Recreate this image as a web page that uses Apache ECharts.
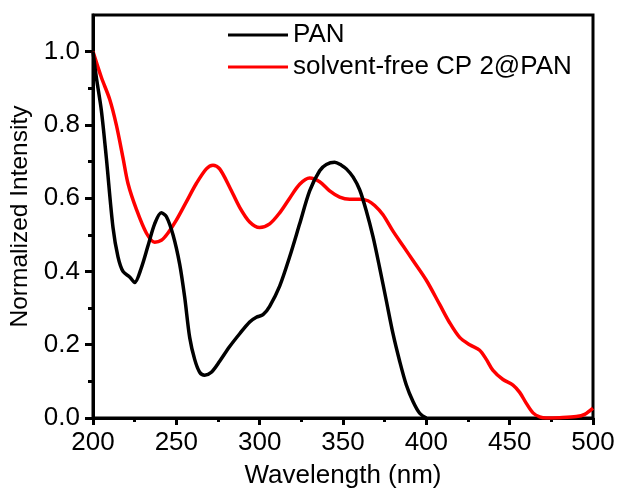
<!DOCTYPE html>
<html>
<head>
<meta charset="utf-8">
<script src="https://cdn.jsdelivr.net/npm/echarts@6/dist/echarts.min.js"></script>
<style>html,body{margin:0;padding:0;background:#fff}#c{width:619px;height:488px}</style>
</head>
<body>
<div id="c"></div>
<script>
var seriesNames = ['PAN', 'solvent-free CP 2@PAN'];
var xTicks = [200, 250, 300, 350, 400, 450, 500];
var yTicks = [0, 0.2, 0.4, 0.6, 0.8, 1.0];
var yMinorTicks = [0.1, 0.3, 0.5, 0.7, 0.9];
var panData = [[200,1.0],[202,0.93],[205,0.84],[208,0.71],[212,0.52],[215,0.44],[218,0.40],[222,0.385],[225,0.37],[229,0.41],[233,0.47],[237,0.53],[241,0.56],[244,0.55],[248,0.50],[252,0.42],[255,0.33],[258,0.22],[261,0.16],[264,0.125],[267,0.117],[271,0.125],[276,0.155],[282,0.195],[288,0.23],[294,0.262],[298,0.275],[302,0.282],[306,0.305],[312,0.36],[318,0.44],[324,0.53],[330,0.62],[336,0.675],[340,0.692],[345,0.698],[349,0.69],[352,0.68],[356,0.658],[360,0.623],[364,0.565],[368,0.495],[372,0.41],[376,0.32],[380,0.23],[384,0.155],[388,0.09],[392,0.045],[396,0.013],[400,0]];
var cpData = [[200,1.0],[205,0.93],[210,0.87],[214,0.80],[218,0.71],[221,0.64],[226,0.57],[232,0.505],[237,0.48],[241,0.485],[245,0.505],[250,0.54],[256,0.59],[262,0.64],[268,0.68],[272,0.69],[276,0.68],[282,0.63],[288,0.575],[294,0.535],[300,0.52],[306,0.53],[312,0.56],[318,0.60],[324,0.638],[330,0.655],[336,0.645],[342,0.62],[348,0.603],[354,0.597],[360,0.597],[365,0.593],[369,0.58],[374,0.555],[380,0.51],[386,0.47],[392,0.43],[400,0.376],[408,0.31],[414,0.26],[420,0.22],[426,0.2],[432,0.185],[436,0.16],[440,0.13],[446,0.105],[452,0.09],[456,0.07],[460,0.04],[464,0.014],[468,0.003],[472,0],[480,0.001],[490,0.004],[495,0.01],[500,0.027]];

var FF = '"Liberation Sans", Arial, sans-serif';
var chart = echarts.init(document.getElementById('c'), null, {renderer: 'canvas'});
chart.setOption({
  animation: false,
  backgroundColor: '#fff',
  grid: {left: 93, right: 26, top: 15, bottom: 70, show: true, borderColor: '#000', borderWidth: 3,
    containLabel: false, outerBoundsMode: 'none'},
  legend: {
    orient: 'vertical', left: 228, top: 22, padding: 0, itemWidth: 60, itemHeight: 3, itemGap: 6,
    textStyle: {fontFamily: FF, fontSize: 26, color: '#000', lineHeight: 26},
    data: [{name: seriesNames[0], icon: 'rect'}, {name: seriesNames[1], icon: 'rect'}]
  },
  xAxis: {
    type: 'value', min: 200, max: 500, interval: 50,
    name: 'Wavelength (nm)', nameLocation: 'middle', nameGap: 45,
    nameTextStyle: {fontFamily: FF, fontSize: 26, color: '#000'},
    axisLine: {show: true, lineStyle: {color: '#000', width: 3}},
    axisTick: {show: true, length: 7, lineStyle: {color: '#000', width: 3}, customValues: xTicks},
    minorTick: {show: true, splitNumber: 2, length: 4, lineStyle: {color: '#000', width: 3}},
    axisLabel: {fontFamily: FF, fontSize: 26, color: '#000', margin: 12, customValues: xTicks},
    splitLine: {show: false}
  },
  yAxis: [{
    type: 'value', min: 0, max: 1.1, interval: 0.2,
    name: 'Normalized Intensity', nameLocation: 'middle', nameGap: 54,
    nameTextStyle: {fontFamily: FF, fontSize: 24.5, color: '#000'},
    axisLine: {show: true, lineStyle: {color: '#000', width: 3}},
    axisTick: {show: true, length: 8, lineStyle: {color: '#000', width: 3}, customValues: yTicks},
    axisLabel: {fontFamily: FF, fontSize: 26, color: '#000', margin: 13, customValues: yTicks,
      formatter: function (v) { return v.toFixed(1); }},
    splitLine: {show: false}
  }, {
    type: 'value', min: 0, max: 1.1, position: 'left',
    axisLine: {show: false},
    axisTick: {show: true, length: 5, lineStyle: {color: '#000', width: 3}, customValues: yMinorTicks},
    axisLabel: {show: false},
    splitLine: {show: false}
  }],
  series: [{
    name: seriesNames[0], type: 'line', data: panData, smooth: 0.3, symbol: 'none',
    lineStyle: {color: '#000', width: 3.5}, itemStyle: {color: '#000'}, z: 3
  }, {
    name: seriesNames[1], type: 'line', data: cpData, smooth: 0.3, symbol: 'none',
    lineStyle: {color: '#ff0000', width: 3.5}, itemStyle: {color: '#ff0000'}, z: 2
  }]
});
</script>
</body>
</html>
